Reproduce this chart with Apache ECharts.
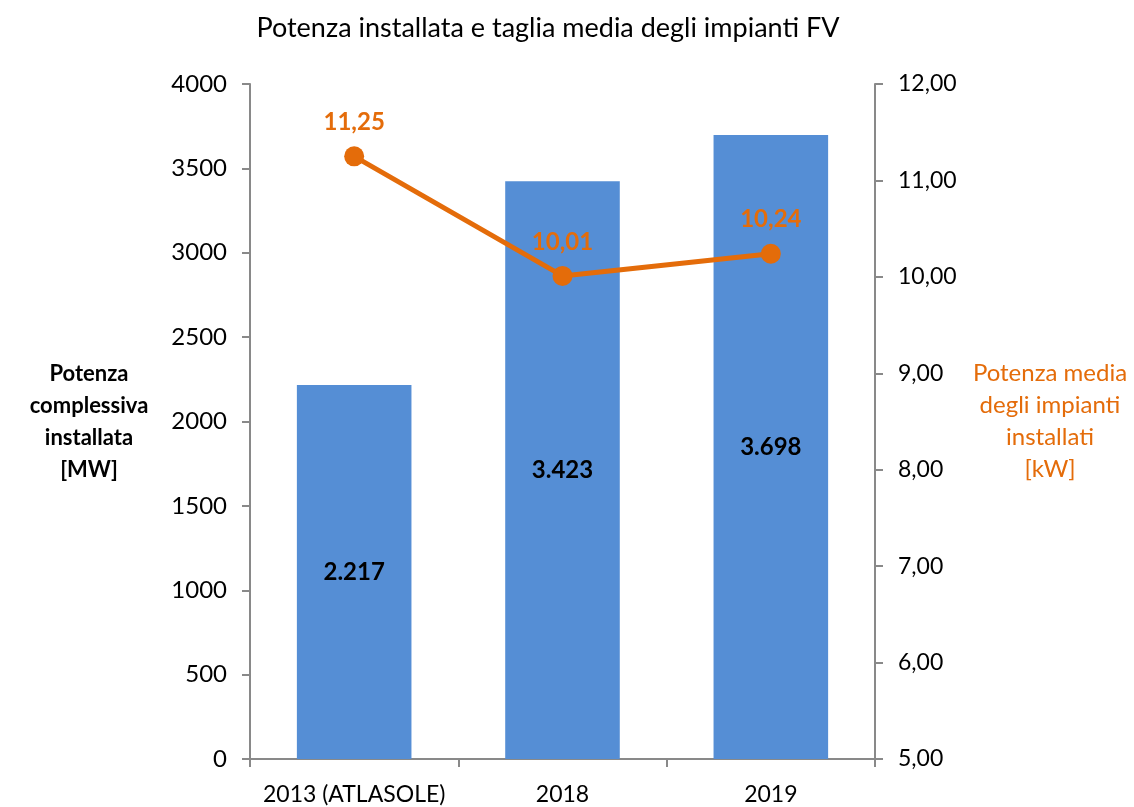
<!DOCTYPE html>
<html>
<head>
<meta charset="utf-8">
<script src="https://cdn.jsdelivr.net/npm/echarts@6/dist/echarts.min.js"></script>
<style>
  html, body { margin: 0; padding: 0; background: #fff; }
  #main { width: 1134px; height: 807px; }
</style>
</head>
<body>
<div id="main"></div>
<script>
// dati del grafico
var categorie = ['2013 (ATLASOLE)', '2018', '2019'];
var potenzaMW = [2217, 3423, 3698];
var tagliaMediaKW = [11.25, 10.01, 10.24];

var FONT = 'Lato';
var grigio = '#898989';
var arancio = '#E46C0A';
var blu = '#558ED5';

function migliaIt(v) {
  var s = String(Math.round(v));
  return s.replace(/\B(?=(\d{3})+(?!\d))/g, '.');
}
function decimaleIt(v) {
  return Number(v).toFixed(2).replace('.', ',');
}

var chart = echarts.init(document.getElementById('main'));
var option = {
  animation: false,
  textStyle: { fontFamily: FONT },
  graphic: [{
    type: 'text',
    x: 548,
    y: 28,
    style: {
      text: 'Potenza installata e taglia media degli impianti FV',
      fontSize: 27,
      fontFamily: FONT,
      fill: '#000',
      align: 'center',
      verticalAlign: 'middle'
    }
  }],
  grid: { left: 250, right: 259, top: 84, bottom: 48 },
  xAxis: {
    type: 'category',
    data: categorie,
    axisLine: { lineStyle: { color: grigio, width: 2 } },
    axisTick: { show: true, length: 8, lineStyle: { color: grigio, width: 2 } },
    axisLabel: { color: '#000', fontSize: 23, margin: 24, interval: 0, fontFamily: FONT }
  },
  yAxis: [{
    type: 'value',
    min: 0,
    max: 4000,
    interval: 500,
    name: 'Potenza\ncomplessiva\ninstallata\n[MW]',
    nameLocation: 'middle',
    nameRotate: 0,
    nameGap: 161,
    nameTextStyle: { color: '#000', fontSize: 22, fontWeight: 'bold', align: 'center', lineHeight: 32, fontFamily: FONT },
    splitLine: { show: false },
    axisLine: { show: true, lineStyle: { color: grigio, width: 2 } },
    axisTick: { show: true, length: 8, lineStyle: { color: grigio, width: 2 } },
    axisLabel: { color: '#000', fontSize: 24, margin: 23, fontFamily: FONT, formatter: function (v) { return String(v); } }
  }, {
    type: 'value',
    min: 5,
    max: 12,
    interval: 1,
    name: 'Potenza media\ndegli impianti\ninstallati\n[kW]',
    nameLocation: 'middle',
    nameRotate: 0,
    nameGap: 175,
    nameTextStyle: { color: arancio, fontSize: 24, align: 'center', lineHeight: 32, fontFamily: FONT },
    splitLine: { show: false },
    axisLine: { show: true, lineStyle: { color: grigio, width: 2 } },
    axisTick: { show: true, length: 8, lineStyle: { color: grigio, width: 2 } },
    axisLabel: { color: '#000', fontSize: 23, margin: 23, fontFamily: FONT, formatter: decimaleIt }
  }],
  series: [{
    type: 'bar',
    data: potenzaMW,
    barWidth: '55%',
    itemStyle: { color: blu },
    label: {
      show: true,
      position: 'inside',
      color: '#000',
      fontSize: 24,
      fontWeight: 'bold',
      fontFamily: FONT,
      formatter: function (p) { return migliaIt(p.value); }
    }
  }, {
    type: 'line',
    yAxisIndex: 1,
    data: tagliaMediaKW,
    symbol: 'circle',
    symbolSize: 20,
    lineStyle: { color: arancio, width: 5 },
    itemStyle: { color: arancio },
    label: {
      show: true,
      position: 'top',
      distance: 12,
      color: arancio,
      fontSize: 24,
      fontWeight: 'bold',
      fontFamily: FONT,
      formatter: function (p) { return decimaleIt(p.value); }
    }
  }]
};
chart.setOption(option);
</script>
</body>
</html>
